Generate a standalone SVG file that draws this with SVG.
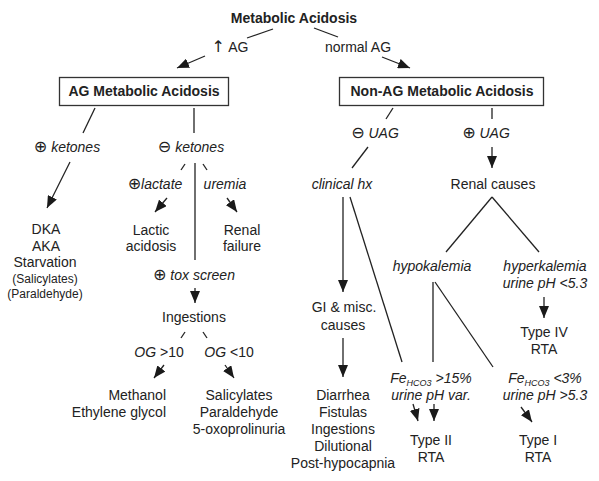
<svg xmlns="http://www.w3.org/2000/svg" width="599" height="481" viewBox="0 0 599 481">
<defs>
<marker id="ah" viewBox="0 0 12 10" refX="12" refY="5" markerWidth="12" markerHeight="10" markerUnits="userSpaceOnUse" orient="auto">
<path d="M0,0 L12,5 L0,10 z" fill="#1a1a1a"/>
</marker>
<style>
text{font-family:"Liberation Sans","DejaVu Sans",Arial,sans-serif;font-size:14px;fill:#222;text-anchor:middle}
.b{font-weight:bold}
.i{font-style:italic}
.s{font-size:12px}
.sym{font-family:"DejaVu Sans",sans-serif;font-size:16px;font-style:normal}
.sub{font-size:9px;font-style:italic}
.l{stroke:#222;stroke-width:1.3;fill:none}
.a{stroke:#222;stroke-width:1.3;fill:none;marker-end:url(#ah)}
.box{fill:#fff;stroke:#333;stroke-width:1.3}
</style>
</defs>
<rect width="599" height="481" fill="#fff"/>
<g id="connectors">
<line class="l" x1="273" y1="29" x2="247" y2="38"/>
<line class="a" x1="205" y1="56" x2="177" y2="68"/>
<line class="l" x1="314" y1="28" x2="338" y2="37"/>
<line class="a" x1="382" y1="57" x2="410" y2="68"/>
<line class="l" x1="95" y1="108" x2="83" y2="133"/>
<line class="l" x1="194" y1="108" x2="194" y2="133"/>
<line class="l" x1="393" y1="108" x2="386" y2="119"/>
<line class="l" x1="492" y1="108" x2="492" y2="119"/>
<line class="a" x1="70" y1="162" x2="47" y2="208"/>
<line class="l" x1="195" y1="163" x2="195" y2="260"/>
<line class="l" x1="185" y1="164" x2="181" y2="170"/>
<line class="l" x1="203" y1="164" x2="207" y2="170"/>
<line class="a" x1="167" y1="198" x2="155" y2="212"/>
<line class="a" x1="227" y1="198" x2="237" y2="212"/>
<line class="a" x1="195" y1="288" x2="195" y2="303"/>
<line class="l" x1="185" y1="332" x2="181" y2="338"/>
<line class="l" x1="203" y1="332" x2="207" y2="338"/>
<line class="a" x1="164" y1="365" x2="154" y2="378"/>
<line class="a" x1="225" y1="365" x2="234" y2="378"/>
<line class="l" x1="368" y1="147" x2="352" y2="168"/>
<line class="a" x1="492" y1="147" x2="492" y2="168"/>
<line class="l" x1="446" y1="252" x2="492" y2="197"/>
<line class="l" x1="492" y1="197" x2="539" y2="252"/>
<line class="a" x1="343" y1="197" x2="343" y2="292"/>
<line class="l" x1="350" y1="197" x2="402" y2="362"/>
<line class="l" x1="433" y1="282" x2="433" y2="362"/>
<line class="l" x1="435" y1="282" x2="493" y2="367"/>
<line class="a" x1="343" y1="338" x2="343" y2="377"/>
<line class="a" x1="544" y1="297" x2="544" y2="318"/>
<line class="a" x1="413" y1="404" x2="418" y2="421"/>
<line class="a" x1="434" y1="404" x2="434" y2="421"/>
<line class="a" x1="521" y1="407" x2="532" y2="422"/>
</g>
<g id="root"><text class="b" x="294" y="23">Metabolic Acidosis</text></g>
<g id="lbl-ag"><text x="230" y="52"><tspan class="sym">↑</tspan> AG</text></g>
<g id="lbl-normal"><text x="358" y="52">normal AG</text></g>
<g id="ag-box"><rect class="box" x="59.5" y="77.5" width="169" height="28"/><text class="b" x="144" y="96">AG Metabolic Acidosis</text></g>
<g id="nonag-box"><rect class="box" x="339.5" y="77.5" width="204" height="28"/><text class="b" x="442" y="96">Non-AG Metabolic Acidosis</text></g>
<g id="pos-ketones"><text x="67" y="152"><tspan class="sym">⊕</tspan> <tspan class="i">ketones</tspan></text></g>
<g id="neg-ketones"><text x="191" y="152"><tspan class="sym">⊖</tspan> <tspan class="i">ketones</tspan></text></g>
<g id="dka"><text x="46" y="234">DKA</text><text x="46" y="251">AKA</text><text x="45" y="267">Starvation</text><text class="s" x="45" y="283">(Salicylates)</text><text class="s" x="45" y="298">(Paraldehyde)</text></g>
<g id="lactate"><text x="155" y="189"><tspan class="sym">⊕</tspan><tspan class="i">lactate</tspan></text></g>
<g id="uremia"><text class="i" x="225" y="189">uremia</text></g>
<g id="lactic"><text x="151" y="235">Lactic</text><text x="151" y="251">acidosis</text></g>
<g id="renal-failure"><text x="242" y="235">Renal</text><text x="242" y="251">failure</text></g>
<g id="tox"><text x="194" y="280"><tspan class="sym">⊕</tspan> <tspan class="i">tox screen</tspan></text></g>
<g id="ingestions"><text x="194" y="322">Ingestions</text></g>
<g id="og-hi"><text x="159" y="357"><tspan class="i">OG</tspan> &gt;10</text></g>
<g id="og-lo"><text x="229" y="357"><tspan class="i">OG</tspan> &lt;10</text></g>
<g id="methanol"><text x="166" y="400" style="text-anchor:end">Methanol</text><text x="166" y="417" style="text-anchor:end">Ethylene glycol</text></g>
<g id="salicylates"><text x="239" y="400">Salicylates</text><text x="239" y="417">Paraldehyde</text><text x="239" y="434">5-oxoprolinuria</text></g>
<g id="neg-uag"><text x="375" y="138"><tspan class="sym">⊖</tspan> <tspan class="i">UAG</tspan></text></g>
<g id="pos-uag"><text x="486" y="138"><tspan class="sym">⊕</tspan> <tspan class="i">UAG</tspan></text></g>
<g id="clinical"><text class="i" x="342" y="189">clinical hx</text></g>
<g id="renal-causes"><text x="493" y="189">Renal causes</text></g>
<g id="hypok"><text class="i" x="432" y="271">hypokalemia</text></g>
<g id="hyperk"><text class="i" x="545" y="271">hyperkalemia</text><text class="i" x="545" y="288">urine pH &lt;5.3</text></g>
<g id="gi"><text x="344" y="312">GI &amp; misc.</text><text x="343" y="330">causes</text></g>
<g id="gi-list"><text x="343" y="400">Diarrhea</text><text x="343" y="417">Fistulas</text><text x="343" y="434">Ingestions</text><text x="343" y="451">Dilutional</text><text x="343" y="468">Post-hypocapnia</text></g>
<g id="type4"><text x="544" y="337">Type IV</text><text x="544" y="354">RTA</text></g>
<g id="fe15"><text class="i" x="431" y="383">Fe<tspan class="sub" dy="3">HCO3</tspan><tspan dy="-3"> &gt;15%</tspan></text><text class="i" x="431" y="400">urine pH var.</text></g>
<g id="fe3"><text class="i" x="545" y="383">Fe<tspan class="sub" dy="3">HCO3</tspan><tspan dy="-3"> &lt;3%</tspan></text><text class="i" x="545" y="400">urine pH &gt;5.3</text></g>
<g id="type2"><text x="431" y="445">Type II</text><text x="431" y="462">RTA</text></g>
<g id="type1"><text x="538" y="445">Type I</text><text x="538" y="462">RTA</text></g>
</svg>
